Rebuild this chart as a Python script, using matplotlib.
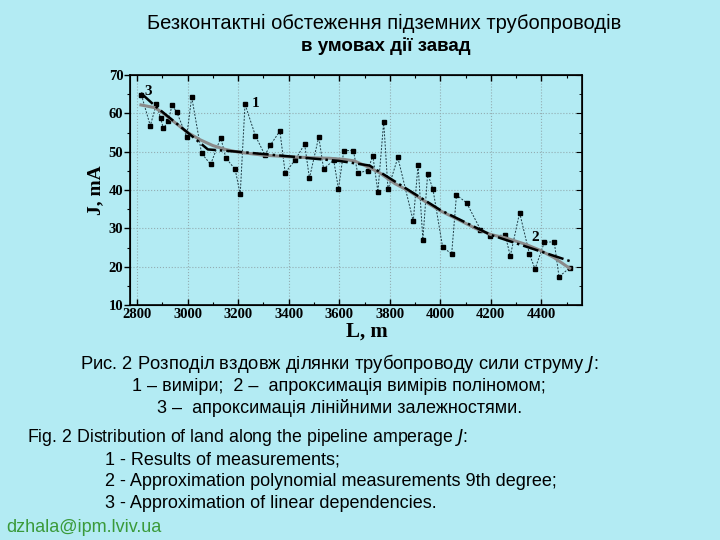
import matplotlib
matplotlib.use("Agg")
import matplotlib.pyplot as plt
from matplotlib.ticker import MultipleLocator

# ---- data ----
L_meas = [2817, 2852, 2876, 2893, 2904, 2924, 2938, 2957, 2996, 3016, 3055, 3091,
          3131, 3151, 3188, 3208, 3227, 3268, 3306, 3327, 3365, 3386, 3425, 3463,
          3482, 3519, 3538, 3578, 3597, 3618, 3656, 3673, 3712, 3733, 3753, 3776,
          3793, 3832, 3893, 3912, 3931, 3950, 3971, 4009, 4045, 4064, 4104, 4159,
          4198, 4257, 4277, 4314, 4353, 4375, 4412, 4451, 4470, 4512]
J_meas = [64.8, 56.8, 62.4, 58.7, 56.1, 58.0, 62.2, 60.3, 53.9, 64.3, 49.6, 46.7,
          53.7, 48.4, 45.4, 38.9, 62.4, 54.2, 49.1, 51.7, 55.4, 44.5, 47.8, 52.0,
          43.1, 53.9, 45.5, 47.8, 40.3, 50.3, 50.3, 44.4, 45.1, 48.9, 39.6, 57.8,
          40.2, 48.5, 31.9, 46.6, 27.1, 44.3, 40.2, 25.2, 23.3, 38.7, 36.7, 29.7,
          28.0, 28.3, 22.8, 34.1, 23.3, 19.4, 26.4, 26.5, 17.4, 19.7]

L_poly = [2815, 2870, 2900, 2950, 3000, 3050, 3100, 3150, 3200, 3300, 3400, 3500,
          3560, 3620, 3660, 3715, 3760, 3820, 3880, 3950, 4000, 4080, 4140, 4200,
          4260, 4340, 4395, 4450, 4512]
J_poly = [62.2, 61.5, 60.2, 57.6, 55.0, 53.1, 51.6, 50.6, 49.9, 49.1, 48.7, 48.4,
          48.3, 48.0, 47.6, 46.0, 44.5, 41.7, 39.6, 36.6, 34.6, 32.0, 30.0, 28.4,
          27.5, 25.8, 24.3, 22.4, 19.6]

L_lin = [2815, 2870, 3000, 3080, 3200, 3600, 3720, 4000, 4200, 4512]
J_lin = [65.3, 62.0, 55.0, 50.6, 50.0, 47.6, 46.4, 34.8, 28.3, 21.5]

x_ticks = [2800, 3000, 3200, 3400, 3600, 3800, 4000, 4200, 4400]
y_ticks = [10, 20, 30, 40, 50, 60, 70]

title1 = "Безконтактні обстеження підземних трубопроводів"
title2 = "в умовах дії завад"
caption_ua = ["Рис. 2 Розподіл вздовж ділянки трубопроводу сили струму $\\it{J}$:",
              "1 – виміри;  2 –  апроксимація вимірів поліномом;",
              "3 –  апроксимація лінійними залежностями."]
caption_en_head = "Fig. 2 Distribution of land along the pipeline amperage $\\it{J}$:"
caption_en = ["1 - Results of measurements;",
              "2 - Approximation polynomial measurements 9th degree;",
              "3 - Approximation of linear dependencies."]
email = "dzhala@ipm.lviv.ua"

BG = "#b3ebf3"
sans = ["Liberation Sans", "DejaVu Sans"]
serif = ["Liberation Serif", "DejaVu Serif"]

fig = plt.figure(figsize=(7.2, 5.4), dpi=100, facecolor=BG)
ax = fig.add_axes([0.181, 0.435, 0.627, 0.426])
ax.set_facecolor(BG)

ax.plot(L_meas, J_meas, color="#1f3a44", lw=0.7, ls=(0, (2, 1.5)), zorder=3,
        marker="s", ms=3.3, mfc="black", mec="black")
ax.plot(L_poly, J_poly, color="#8a8a8a", lw=2.2, zorder=4)
ax.plot(L_lin, J_lin, color="black", lw=1.8, ls="-.", zorder=5)

ax.set_xlim(2773, 4560)
ax.set_ylim(10, 70)
ax.set_xticks(x_ticks)
ax.set_yticks(y_ticks)
ax.xaxis.set_minor_locator(MultipleLocator(100))
ax.yaxis.set_minor_locator(MultipleLocator(5))
ax.grid(True, which="major", color="#93adb2", ls=":", lw=0.8)
ax.tick_params(axis="x", which="both", direction="in", top=True, labelsize=10.5)
ax.tick_params(axis="y", which="both", direction="out", right=False, labelsize=10.5)
ax.tick_params(which="major", length=4, width=1)
ax.tick_params(which="minor", length=2.5, width=0.8)
for lab in ax.get_xticklabels() + ax.get_yticklabels():
    lab.set_family(serif)
    lab.set_fontweight("bold")
ax.tick_params(axis="x", pad=2)
ax.tick_params(axis="y", pad=1)
for sp in ax.spines.values():
    sp.set_linewidth(1.2)

# right-side inward ticks
ax2 = ax.twinx()
ax2.set_ylim(10, 70)
ax2.set_yticks(y_ticks)
ax2.yaxis.set_minor_locator(MultipleLocator(5))
ax2.tick_params(axis="y", which="both", direction="in", labelright=False)
ax2.tick_params(which="major", length=4)
ax2.tick_params(which="minor", length=2.5)

ax.set_xlabel("L, m", family=serif, fontweight="bold", fontsize=15)
ax.xaxis.set_label_coords(0.524, -0.072)
ax.set_ylabel("J, mA", family=serif, fontweight="bold", fontsize=14, labelpad=3)

ax.text(3255, 62.5, "1", family=serif, fontweight="bold", fontsize=11, va="center")
ax.text(4362, 27.7, "2", family=serif, fontweight="bold", fontsize=11, va="center")
ax.text(2830, 65.8, "3", family=serif, fontweight="bold", fontsize=11, va="center")

fig.text(0.534, 0.956, title1, ha="center", va="center", family=sans, fontsize=14.5)
fig.text(0.5355, 0.914, title2, ha="center", va="center", family=sans, fontsize=13.5,
         fontweight="bold")

ys_ua = [0.326, 0.285, 0.244]
sizes_ua = [13.2, 13.0, 13.0]
for y, t, s in zip(ys_ua, caption_ua, sizes_ua):
    fig.text(0.471, y, t, ha="center", va="center", family=sans, fontsize=s)

fig.text(0.038, 0.189, caption_en_head, ha="left", va="center", family=sans, fontsize=12.8)
ys_en = [0.149, 0.108, 0.068]
for y, t in zip(ys_en, caption_en):
    fig.text(0.146, y, t, ha="left", va="center", family=sans, fontsize=13)

fig.text(0.008, 0.024, email, ha="left", va="center", family=sans, fontsize=13,
         color="#3a9a3a")

fig.savefig("out.png", dpi=100, facecolor=BG)
